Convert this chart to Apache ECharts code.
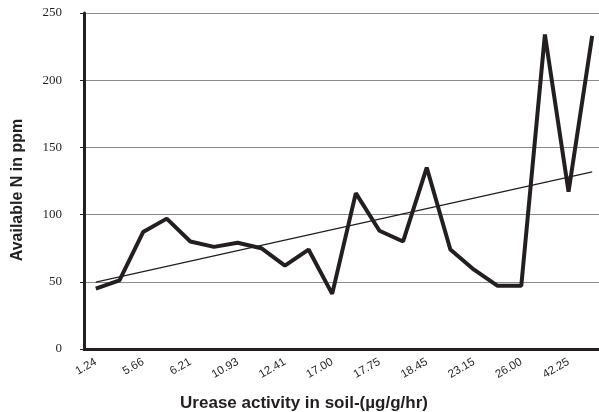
<!DOCTYPE html>
<html><head><meta charset="utf-8">
<script src="https://cdn.jsdelivr.net/npm/echarts@6/dist/echarts.min.js"></script>
<style>html,body{margin:0;padding:0;background:#fff}#c{width:599px;height:412px}</style>
</head><body><div id="c"></div>
<script>
const categories = ['1.24','','5.66','','6.21','','10.93','','12.41','','17.00','','17.75','','18.45','','23.15','','26.00','','42.25',''];
const availableN = [45,51,87,97,80,76,79,75,62,74,41,116,88,80,135,74,59,47,47,234,117,233];
const yTicks = {min:0, max:250, interval:50};

// linear trendline (least squares) from the data
const n = availableN.length;
const xm = (n + 1) / 2;
const ym = availableN.reduce((a,b)=>a+b,0) / n;
let sxy = 0, sxx = 0;
availableN.forEach((v,i)=>{const x=i+1; sxy += (x-xm)*(v-ym); sxx += (x-xm)*(x-xm);});
const slope = sxy / sxx;
const trend = availableN.map((v,i)=> ym + slope*((i+1)-xm));

const chart = echarts.init(document.getElementById('c'));
chart.setOption({
  animation:false,
  grid:{left:84, width:520, top:13, height:336, containLabel:false, outerBoundsMode:'none'},
  xAxis:{
    type:'category', data:categories, boundaryGap:true,
    name:'Urease activity in soil-(µg/g/hr)', nameLocation:'middle', nameGap:46,
    nameTextStyle:{fontFamily:'Liberation Sans', fontWeight:'bold', fontSize:17, color:'#231f20', padding:[0,80,0,0]},
    axisLine:{lineStyle:{color:'#231f20', width:3}},
    axisTick:{show:false},
    axisLabel:{interval:0, rotate:30, margin:12, fontFamily:'Liberation Sans', fontSize:11.5, color:'#231f20'},
    splitLine:{show:false}
  },
  yAxis:{
    type:'value', min:yTicks.min, max:yTicks.max, interval:yTicks.interval,
    name:'Available N in ppm', nameLocation:'middle', nameGap:58,
    nameTextStyle:{fontFamily:'Liberation Sans', fontWeight:'bold', fontSize:16, color:'#231f20', padding:[0,18,0,0]},
    axisLine:{show:true, lineStyle:{color:'#231f20', width:3}},
    axisTick:{show:true, length:4, lineStyle:{color:'#231f20', width:1}},
    axisLabel:{margin:22, fontFamily:'Liberation Serif', fontSize:13, color:'#231f20'},
    splitLine:{show:true, lineStyle:{color:'#8a8a8a', width:1}}
  },
  series:[
    {type:'line', data:availableN, symbol:'none', lineStyle:{color:'#231f20', width:4}, z:3},
    {type:'line', data:trend, symbol:'none', lineStyle:{color:'#231f20', width:1.2}, z:2}
  ]
});
</script></body></html>
